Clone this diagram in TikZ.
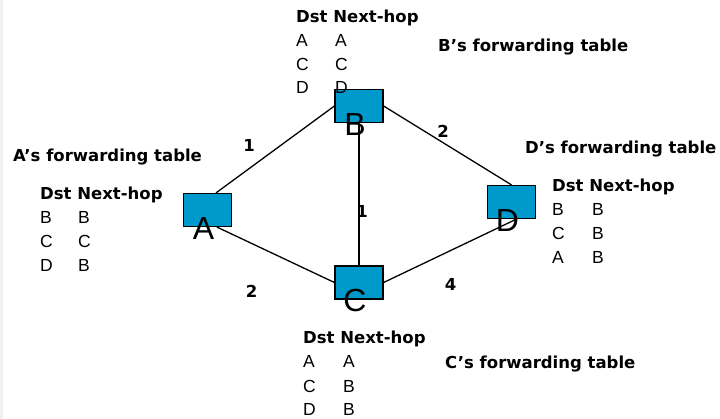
\documentclass[tikz,border=0pt]{standalone}
\usepackage{fontspec}
\setmainfont{Liberation Sans}
\newfontfamily\headfont{DejaVu Sans}[BoldFont=DejaVu Sans Bold]
\usetikzlibrary{calc}
\definecolor{boxblue}{RGB}{0,153,204}
\tikzset{
  router/.style={draw=black, line width=1.2pt, fill=boxblue,
    minimum width=48pt, minimum height=33pt, inner sep=0pt},
  rlabel/.style={inner sep=0pt, font=\fontsize{32}{34}\selectfont},
  head/.style={anchor=base west, inner sep=0pt,
    font=\headfont\bfseries\fontsize{16.5}{18}\selectfont},
  entry/.style={anchor=base west, inner sep=0pt,
    font=\fontsize{17.5}{19}\selectfont},
  weight/.style={inner sep=0pt,
    font=\headfont\bfseries\fontsize{16.5}{18}\selectfont},
  link/.style={line width=1.3pt, draw=black}
}
\begin{document}
\begin{tikzpicture}[x=1pt, y=-1pt]
  \useasboundingbox (0,0) rectangle (720,419);
  \fill[white] (0,0) rectangle (720,419);
  \fill[black!6] (0,0) rectangle (2.5,419);

  % routers
  \node[router] (A) at (207.5,210) {};
  \node[router] (B) at (359,106) {};
  \node[router] (C) at (359,282.5) {};
  \node[router] (D) at (511.5,202) {};

  % links
  \draw[link] ([xshift=8.5pt]A.north) -- (B.west);
  \draw[link] ([xshift=9.5pt]A.south) -- (C.west);
  \draw[link] (B.south) -- (C.north);
  \draw[link] (B.east) -- (D.north);
  \draw[link] (C.east) -- ([xshift=5pt]D.south);

  % router names
  \node[rlabel] (Alet) at ($(A.center)+(-4,18.5)$) {A};
  \node[rlabel] (Blet) at ($(B.center)+(-4,18)$) {B};
  \node[rlabel] (Clet) at ($(C.center)+(-4,17.5)$) {C};
  \node[rlabel] (Dlet) at ($(D.center)+(-4,18)$) {D};

  % link costs
  \node[weight] (wAB) at (249,145) {1};
  \node[weight] (wBD) at (443,131.5) {2};
  \node[weight] (wBC) at (362,211.5) {1};
  \node[weight] (wAC) at (251.5,291.5) {2};
  \node[weight] (wCD) at (450.5,284) {4};

  % A's table
  \node[head] (Atitle) at (13,162) {A’s forwarding table};
  \node[head] (Ahead) at (40,200) {Dst Next-hop};
  \node[entry] at (40,224) {B}; \node[entry] at (78,224) {B};
  \node[entry] at (40,248) {C}; \node[entry] at (78,248) {C};
  \node[entry] at (40,272) {D}; \node[entry] at (78,272) {B};

  % B's table
  \node[head] (Btitle) at (438,52) {B’s forwarding table};
  \node[head] (Bhead) at (296,23) {Dst Next-hop};
  \node[entry] at (296,47) {A}; \node[entry] at (335,47) {A};
  \node[entry] at (296,71) {C}; \node[entry] at (335,71) {C};
  \node[entry] at (296,94) {D}; \node[entry] at (335,94) {D};

  % D's table
  \node[head] (Dtitle) at (525,154) {D’s forwarding table};
  \node[head] (Dhead) at (552,192) {Dst Next-hop};
  \node[entry] at (552,216) {B}; \node[entry] at (592,216) {B};
  \node[entry] at (552,240) {C}; \node[entry] at (592,240) {B};
  \node[entry] at (552,264) {A}; \node[entry] at (592,264) {B};

  % C's table
  \node[head] (Ctitle) at (445,369) {C’s forwarding table};
  \node[head] (Chead) at (303,343.5) {Dst Next-hop};
  \node[entry] at (303,368) {A}; \node[entry] at (343,368) {A};
  \node[entry] at (303,392) {C}; \node[entry] at (343,392) {B};
  \node[entry] at (303,415.5) {D}; \node[entry] at (343,415.5) {B};
\end{tikzpicture}
\end{document}
